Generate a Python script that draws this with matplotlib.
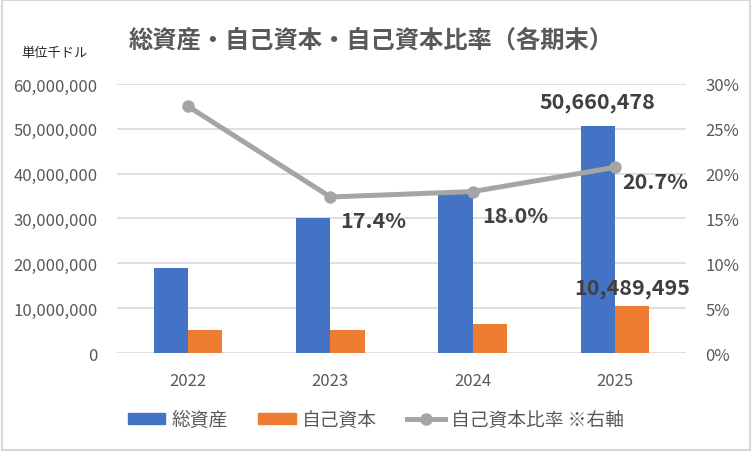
import matplotlib.pyplot as plt
import matplotlib.ticker as mticker
from matplotlib.patches import Rectangle
from matplotlib.lines import Line2D
import numpy as np

plt.rcParams['font.family'] = ['Noto Sans CJK JP', 'DejaVu Sans']

years = ["2022", "2023", "2024", "2025"]
total_assets = [18900000, 30000000, 35900000, 50660478]
equity = [5200000, 5200000, 6450000, 10489495]
equity_ratio = [27.5, 17.4, 18.0, 20.7]

BLUE = "#4472C4"
ORANGE = "#ED7D31"
GRAY = "#A5A5A5"
TEXT = "#595959"
LABEL = "#404040"

fig = plt.figure(figsize=(7.52, 4.52), dpi=100)
fig.patches.append(Rectangle((0.002, 0.002), 0.996, 0.996, transform=fig.transFigure,
                             fill=False, edgecolor="#D9D9D9", linewidth=1.5))
ax = fig.add_axes([0.1556, 0.2168, 0.7566, 0.5952])
ax2 = ax.twinx()

x = np.arange(len(years))
w = 0.24
ax.bar(x - w / 2, total_assets, w, color=BLUE, zorder=3)
ax.bar(x + w / 2, equity, w, color=ORANGE, zorder=3)

ax.set_xlim(-0.5, 3.5)
ax.set_ylim(0, 60000000)
ax.yaxis.set_major_locator(mticker.MultipleLocator(10000000))
ax.yaxis.set_major_formatter(mticker.FuncFormatter(lambda v, p: f"{int(v):,}"))
ax.set_xticks(x)
ax.set_xticklabels(years)
ax.grid(axis="y", color="#D9D9D9", linewidth=1.2, zorder=0)
for s in ax.spines.values():
    s.set_visible(False)
for s in ax2.spines.values():
    s.set_visible(False)
ax.tick_params(length=0, labelsize=12, labelcolor=TEXT)
ax.tick_params(axis="x", pad=14)
ax.tick_params(axis="y", pad=14)

ax2.plot(x, equity_ratio, color=GRAY, linewidth=3.6, marker="o", markersize=8, zorder=4)
ax2.set_ylim(0, 30)
ax2.yaxis.set_major_locator(mticker.MultipleLocator(5))
ax2.yaxis.set_major_formatter(mticker.FuncFormatter(lambda v, p: f"{int(v)}%"))
ax2.tick_params(length=0, labelsize=12, labelcolor=TEXT, pad=14)

# data labels
ax.annotate(f"{total_assets[3]:,}", (x[3] - w / 2, total_assets[3]), xytext=(0, 10),
            textcoords="offset points", ha="center", va="bottom",
            fontsize=15.5, fontweight="bold", color=LABEL)
ax.annotate(f"{equity[3]:,}", (x[3] + w / 2, equity[3]), xytext=(0, 6),
            textcoords="offset points", ha="center", va="bottom",
            fontsize=15.5, fontweight="bold", color=LABEL)
offsets = {1: (7, -17), 2: (7, -17), 3: (5, -10)}
for i, (dx, dy) in offsets.items():
    ax2.annotate(f"{equity_ratio[i]:.1f}%", (x[i], equity_ratio[i]), xytext=(dx, dy),
                 textcoords="offset points", ha="left", va="center",
                 fontsize=15.5, fontweight="bold", color=LABEL)

fig.text(0.493, 0.91, "総資産・自己資本・自己資本比率（各期末）", ha="center", va="center",
         fontsize=17.5, fontweight="bold", color=TEXT)
fig.text(0.028, 0.882, "単位千ドル", ha="left", va="center", fontsize=9.5, color="#262626")

handles = [
    Rectangle((0, 0), 1, 1, color=BLUE),
    Rectangle((0, 0), 1, 1, color=ORANGE),
    Line2D([], [], color=GRAY, linewidth=3.6, marker="o", markersize=8),
]
fig.legend(handles, ["総資産", "自己資本", "自己資本比率 ※右軸"], loc="center",
           bbox_to_anchor=(0.5, 0.07), ncol=3, frameon=False, fontsize=13.5,
           labelcolor=TEXT, handlelength=2.0, handleheight=0.55, columnspacing=1.6,
           handletextpad=0.35)

fig.savefig("out.png", dpi=100)
